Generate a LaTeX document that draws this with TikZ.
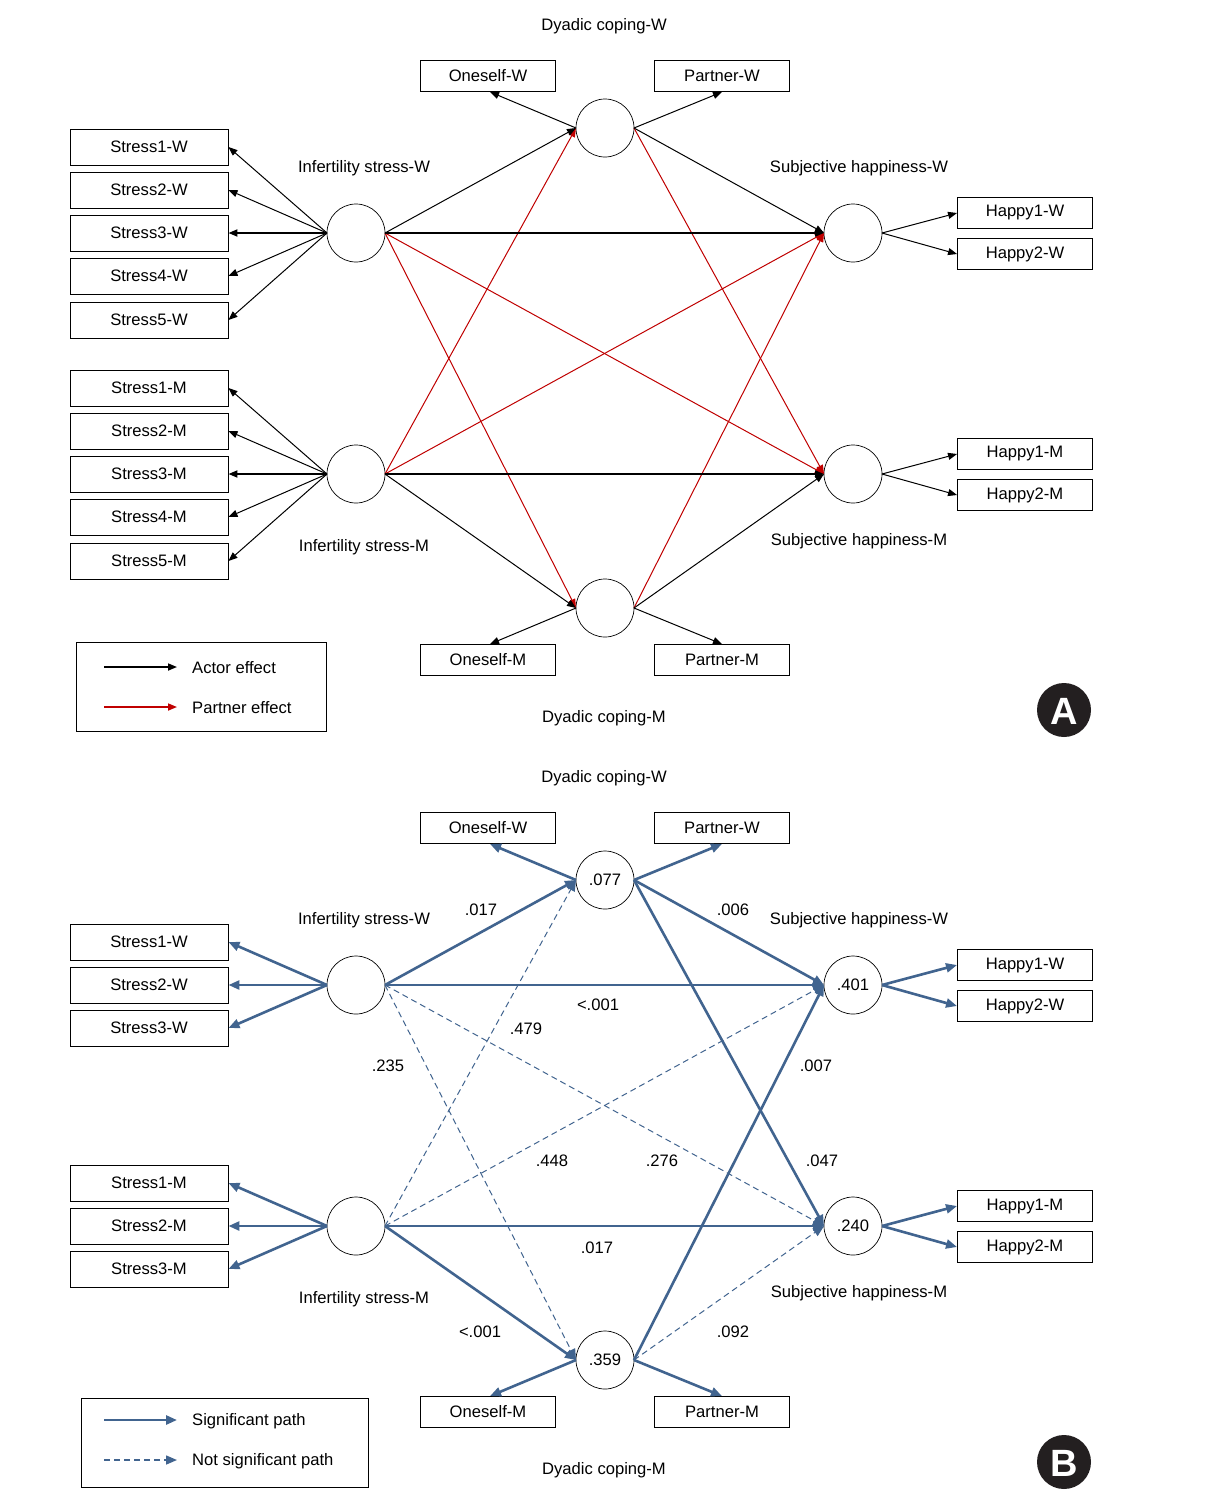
\documentclass[tikz,border=0pt]{standalone}
\usepackage{fontspec}
\setmainfont{Liberation Sans}
\usetikzlibrary{arrows.meta}
\definecolor{pred}{HTML}{C00000}
\definecolor{pblue}{HTML}{41648F}
\definecolor{badge}{HTML}{231F20}
\begin{document}
\begin{tikzpicture}[x=1pt,y=-1pt,font=\fontsize{16.6}{19}\selectfont,
  bigbox/.style={draw,line width=0.9pt,minimum width=158pt,minimum height=36pt,inner sep=0pt},
  smbox/.style={draw,line width=0.9pt,minimum width=135pt,minimum height=31pt,inner sep=0pt},
  lat/.style={circle,draw,line width=0.7pt,minimum size=58pt,inner sep=0pt,outer sep=0pt},
  lbl/.style={inner sep=0pt},
  act/.style={line width=1pt,-{Triangle[length=9pt,width=7pt]}},
  actH/.style={act,line width=1.8pt},
  prt/.style={act,color=pred},
  sig/.style={line width=2.6pt,color=pblue,-{Triangle[length=11pt,width=9pt]}},
  nsig/.style={line width=1pt,color=pblue,dash pattern=on 6pt off 4pt,-{Triangle[length=11pt,width=9pt]}},
  legbox/.style={draw,line width=0.9pt,inner sep=0pt},
  badgec/.style={circle,fill=badge,minimum size=54pt,inner sep=0pt},
  badget/.style={text=white,font=\fontsize{38}{40}\selectfont\bfseries,inner sep=0pt}]
\useasboundingbox (0,0) rectangle (1231,1500);
\fill[white] (0,0) rectangle (1231,1500);

% ================= Panel A =================
\node[lbl] (tDCWa) at (604,26) {Dyadic coping-W};
\node[lbl] (tISWa) at (364,168) {Infertility stress-W};
\node[lbl] (tSHWa) at (859,168) {Subjective happiness-W};
\node[lbl] (tISMa) at (364,547) {Infertility stress-M};
\node[lbl] (tSHMa) at (859,541) {Subjective happiness-M};
\node[lbl] (tDCMa) at (604,718) {Dyadic coping-M};

\node[smbox] (owA) at (488,76) {Oneself-W};
\node[smbox] (pwA) at (722,76) {Partner-W};
\node[smbox] (omA) at (488,660) {Oneself-M};
\node[smbox] (pmA) at (722,660) {Partner-M};

\node[bigbox] (sw1A) at (149,147) {Stress1-W};
\node[bigbox] (sw2A) at (149,190) {Stress2-W};
\node[bigbox] (sw3A) at (149,233) {Stress3-W};
\node[bigbox] (sw4A) at (149,276) {Stress4-W};
\node[bigbox] (sw5A) at (149,320) {Stress5-W};
\node[bigbox] (sm1A) at (149,388) {Stress1-M};
\node[bigbox] (sm2A) at (149,431) {Stress2-M};
\node[bigbox] (sm3A) at (149,474) {Stress3-M};
\node[bigbox] (sm4A) at (149,517) {Stress4-M};
\node[bigbox] (sm5A) at (149,561) {Stress5-M};

\node[smbox] (hw1A) at (1025,213) {Happy1-W};
\node[smbox] (hw2A) at (1025,254) {Happy2-W};
\node[smbox] (hm1A) at (1025,454) {Happy1-M};
\node[smbox] (hm2A) at (1025,495) {Happy2-M};

\node[lat] (dcwA) at (605,128) {};
\node[lat] (iswA) at (356,233) {};
\node[lat] (shwA) at (853,233) {};
\node[lat] (ismA) at (356,474) {};
\node[lat] (shmA) at (853,474) {};
\node[lat] (dcmA) at (605,608) {};

% measurement arrows
\draw[act] (iswA.west) -- (sw1A.east);
\draw[act] (iswA.west) -- (sw2A.east);
\draw[actH] (iswA.west) -- (sw3A.east);
\draw[act] (iswA.west) -- (sw4A.east);
\draw[act] (iswA.west) -- (sw5A.east);
\draw[act] (ismA.west) -- (sm1A.east);
\draw[act] (ismA.west) -- (sm2A.east);
\draw[actH] (ismA.west) -- (sm3A.east);
\draw[act] (ismA.west) -- (sm4A.east);
\draw[act] (ismA.west) -- (sm5A.east);
\draw[act] (dcwA.west) -- ([xshift=2pt]owA.south);
\draw[act] (dcwA.east) -- (pwA.south);
\draw[act] (dcmA.west) -- ([xshift=2pt]omA.north);
\draw[act] (dcmA.east) -- (pmA.north);
\draw[act] (shwA.east) -- (hw1A.west);
\draw[act] (shwA.east) -- (hw2A.west);
\draw[act] (shmA.east) -- (hm1A.west);
\draw[act] (shmA.east) -- (hm2A.west);

% structural paths
\draw[prt] (iswA.east) -- (shmA.west);
\draw[prt] (iswA.east) -- (dcmA.west);
\draw[prt] (ismA.east) -- (dcwA.west);
\draw[prt] (ismA.east) -- (shwA.west);
\draw[prt] (dcwA.east) -- (shmA.west);
\draw[prt] (dcmA.east) -- (shwA.west);
\draw[act] (iswA.east) -- (dcwA.west);
\draw[actH] (iswA.east) -- (shwA.west);
\draw[act] (dcwA.east) -- (shwA.west);
\draw[actH] (ismA.east) -- (shmA.west);
\draw[act] (ismA.east) -- (dcmA.west);
\draw[act] (dcmA.east) -- (shmA.west);

% legend A
\node[legbox,minimum width=250pt,minimum height=89pt] (legA) at (201,686.5) {};
\coordinate (la1s) at (104,667); \coordinate (la1e) at (177,667);
\coordinate (la2s) at (104,707); \coordinate (la2e) at (177,707);
\draw[act,line width=1.6pt] (la1s) -- (la1e);
\draw[prt,line width=1.6pt] (la2s) -- (la2e);
\node[lbl,anchor=west] (laT1) at (192,668) {Actor effect};
\node[lbl,anchor=west] (laT2) at (192,708) {Partner effect};

\node[badgec] (bA) at (1064,710) {};
\node[badget] (bAt) at (1064,711) {A};

% ================= Panel B =================
\node[lbl] (tDCWb) at (604,778) {Dyadic coping-W};
\node[lbl] (tISWb) at (364,920) {Infertility stress-W};
\node[lbl] (tSHWb) at (859,920) {Subjective happiness-W};
\node[lbl] (tISMb) at (364,1299) {Infertility stress-M};
\node[lbl] (tSHMb) at (859,1293) {Subjective happiness-M};
\node[lbl] (tDCMb) at (604,1470) {Dyadic coping-M};

\node[smbox] (owB) at (488,828) {Oneself-W};
\node[smbox] (pwB) at (722,828) {Partner-W};
\node[smbox] (omB) at (488,1412) {Oneself-M};
\node[smbox] (pmB) at (722,1412) {Partner-M};

\node[bigbox] (sw1B) at (149,942) {Stress1-W};
\node[bigbox] (sw2B) at (149,985) {Stress2-W};
\node[bigbox] (sw3B) at (149,1028) {Stress3-W};
\node[bigbox] (sm1B) at (149,1183) {Stress1-M};
\node[bigbox] (sm2B) at (149,1226) {Stress2-M};
\node[bigbox] (sm3B) at (149,1269) {Stress3-M};

\node[smbox] (hw1B) at (1025,965) {Happy1-W};
\node[smbox] (hw2B) at (1025,1006) {Happy2-W};
\node[smbox] (hm1B) at (1025,1206) {Happy1-M};
\node[smbox] (hm2B) at (1025,1247) {Happy2-M};

\node[lat] (dcwB) at (605,880) {.077};
\node[lat] (iswB) at (356,985) {};
\node[lat] (shwB) at (853,985) {\raisebox{-3pt}{.401}};
\node[lat] (ismB) at (356,1226) {};
\node[lat] (shmB) at (853,1226) {.240};
\node[lat] (dcmB) at (605,1360) {.359};

% measurement arrows
\draw[sig] (iswB.west) -- (sw1B.east);
\draw[sig] (iswB.west) -- (sw2B.east);
\draw[sig] (iswB.west) -- (sw3B.east);
\draw[sig] (ismB.west) -- (sm1B.east);
\draw[sig] (ismB.west) -- (sm2B.east);
\draw[sig] (ismB.west) -- (sm3B.east);
\draw[sig] (dcwB.west) -- ([xshift=2pt]owB.south);
\draw[sig] (dcwB.east) -- (pwB.south);
\draw[sig] (dcmB.west) -- ([xshift=2pt]omB.north);
\draw[sig] (dcmB.east) -- (pmB.north);
\draw[sig] (shwB.east) -- (hw1B.west);
\draw[sig] (shwB.east) -- (hw2B.west);
\draw[sig] (shmB.east) -- (hm1B.west);
\draw[sig] (shmB.east) -- (hm2B.west);

% structural paths
\draw[nsig] (iswB.east) -- (shmB.west);
\draw[nsig] (iswB.east) -- (dcmB.west);
\draw[nsig] (ismB.east) -- (dcwB.west);
\draw[nsig] (ismB.east) -- (shwB.west);
\draw[nsig] (dcmB.east) -- (shmB.west);
\draw[sig] (iswB.east) -- (dcwB.west);
\draw[sig] (iswB.east) -- (shwB.west);
\draw[sig] (dcwB.east) -- (shwB.west);
\draw[sig] (dcwB.east) -- (shmB.west);
\draw[sig] (dcmB.east) -- (shwB.west);
\draw[sig] (ismB.east) -- (shmB.west);
\draw[sig] (ismB.east) -- (dcmB.west);

% path labels
\node[lbl] (p1) at (481,910) {.017};
\node[lbl] (p2) at (733,910) {.006};
\node[lbl] (p3) at (598,1005) {<.001};
\node[lbl] (p4) at (526,1029) {.479};
\node[lbl] (p5) at (388,1066) {.235};
\node[lbl] (p6) at (816,1066) {.007};
\node[lbl] (p7) at (552,1161) {.448};
\node[lbl] (p8) at (662,1161) {.276};
\node[lbl] (p9) at (822,1161) {.047};
\node[lbl] (p10) at (597,1248) {.017};
\node[lbl] (p11) at (480,1332) {<.001};
\node[lbl] (p12) at (733,1332) {.092};

% legend B
\node[legbox,minimum width=287pt,minimum height=89pt] (legB) at (224.5,1442.5) {};
\coordinate (lb1s) at (104,1420); \coordinate (lb1e) at (177,1420);
\coordinate (lb2s) at (104,1460); \coordinate (lb2e) at (177,1460);
\draw[sig] (lb1s) -- (lb1e);
\draw[nsig,line width=1.6pt] (lb2s) -- (lb2e);
\node[lbl,anchor=west] (lbT1) at (192,1421) {Significant path};
\node[lbl,anchor=west] (lbT2) at (192,1461) {Not significant path};

\node[badgec] (bB) at (1064,1462) {};
\node[badget] (bBt) at (1064,1463) {B};
\end{tikzpicture}
\end{document}
